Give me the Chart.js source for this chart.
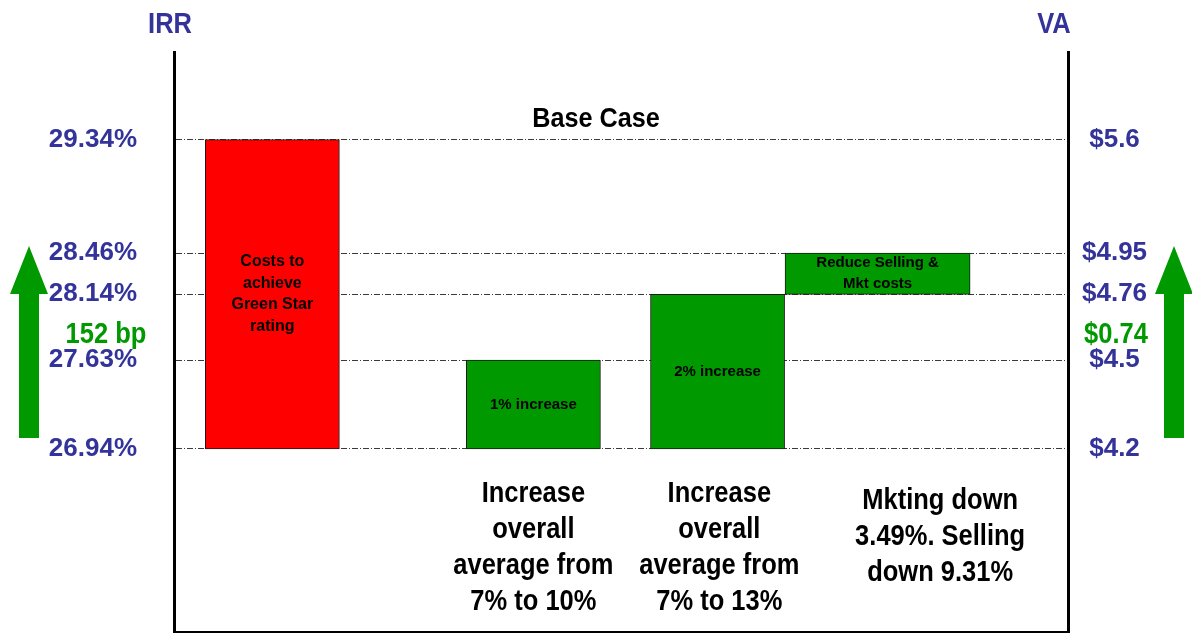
<!DOCTYPE html>
<html>
<head>
<meta charset="utf-8">
<title>IRR / VA bridge</title>
<script src="https://cdn.jsdelivr.net/npm/chart.js@4.4.0/dist/chart.umd.min.js"></script>
<style>
  html, body { margin: 0; padding: 0; background: #fff; }
  #wrap { width: 1192px; height: 633px; position: relative; }
</style>
</head>
<body>
<div id="wrap"><canvas id="bridge"></canvas></div>
<script>
// IRR bridge: green star cost takes the base case down, three changes bring it back up
const steps = ['Costs to achieve Green Star rating', '1% increase', '2% increase', 'Reduce Selling & Mkt costs'];
const barText = [['Costs to', 'achieve', 'Green Star', 'rating'], ['1% increase'], ['2% increase'], ['Reduce Selling &', 'Mkt costs']];
const irrFrom = [29.34, 26.94, 26.94, 28.14];
const irrTo = [26.94, 27.63, 28.14, 28.46];
const irrTicks = [26.94, 27.63, 28.14, 28.46, 29.34];
const vaTicks = ['$4.2', '$4.5', '$4.76', '$4.95', '$5.6'];
const stepNotes = [[], ['Increase', 'overall', 'average from', '7% to 10%'], ['Increase', 'overall', 'average from', '7% to 13%'], ['Mkting down', '3.49%. Selling', 'down 9.31%']];
const baseLabel = 'Base Case';
const vaGain = '$0.74';

const BLUE = '#333399', GREEN = '#009900';
const FILLS = ['#ff0000', GREEN, GREEN, GREEN];
const SANS = '"Liberation Sans", Arial, sans-serif';

// where each step sits along the x axis (0..10) and how wide it is
const slotX = [1.1, 4.02, 6.08, 7.87];
const slotW = [1.5, 1.5, 1.5, 2.07];
const noteX = [null, 4.02, 6.1, 8.57];
const baseX = 4.72;
const PLOT_LEFT = 174, PLOT_RIGHT = 1068;
const PX_PER_UNIT = (PLOT_RIGHT - PLOT_LEFT) / 10;

const Y_MIN = 25.52, Y_MAX = 30.02;
const tickList = s => { s.ticks = irrTicks.map(v => ({ value: v })); };
// keep the plot box fixed: no extra room for the first/last labels
const fixWidth = w => s => { s.width = w; s.paddingTop = 0; s.paddingBottom = 0; };

const datasets = steps.map((s, i) => ({
  label: s,
  data: [{ x: slotX[i], y: [irrFrom[i], irrTo[i]] }],
  backgroundColor: FILLS[i],
  borderColor: '#1a1a1a',
  borderWidth: 1,
  borderSkipped: false,
  grouped: false,
  barThickness: slotW[i] * PX_PER_UNIT,
  yAxisID: 'irr'
}));

// condensed-looking bold text: squeeze horizontally around the anchor
function narrowText(ctx, text, x, y, size, squeeze) {
  ctx.save();
  ctx.translate(x, y);
  ctx.scale(squeeze, 1);
  ctx.font = 'bold ' + size + 'px ' + SANS;
  ctx.fillText(text, 0, 0);
  ctx.restore();
}

function upArrow(ctx, cx, tip, bottom) {
  const headW = 19, shaftW = 10, headH = 48;
  ctx.beginPath();
  ctx.moveTo(cx, tip);
  ctx.lineTo(cx + headW, tip + headH);
  ctx.lineTo(cx + shaftW, tip + headH);
  ctx.lineTo(cx + shaftW, bottom);
  ctx.lineTo(cx - shaftW, bottom);
  ctx.lineTo(cx - shaftW, tip + headH);
  ctx.lineTo(cx - headW, tip + headH);
  ctx.closePath();
  ctx.fill();
}

const annotate = {
  id: 'annotate',
  afterDatasetsDraw(chart) {
    const { ctx, scales: { x, irr } } = chart;
    ctx.save();
    ctx.textAlign = 'center';
    ctx.textBaseline = 'middle';
    ctx.fillStyle = '#000';

    // text inside the bars
    chart.data.datasets.forEach((ds, i) => {
      const bar = chart.getDatasetMeta(i).data[0];
      const lines = barText[i];
      const lh = i === 0 ? 21.5 : 21;
      ctx.font = 'bold ' + (i === 0 ? 16 : 15) + 'px ' + SANS;
      const mid = (bar.y + bar.base) / 2;
      lines.forEach((t, k) => ctx.fillText(t, bar.x, mid + (k - (lines.length - 1) / 2) * lh));
    });

    // step descriptions under the bars
    const floor = irr.getPixelForValue(irrTicks[0]);
    stepNotes.forEach((lines, i) => {
      if (!lines.length) return;
      const top = floor + 45 + (4 - lines.length) * 7;
      lines.forEach((t, k) => narrowText(ctx, t, x.getPixelForValue(noteX[i]), top + k * 36, 30, 0.85));
    });

    narrowText(ctx, baseLabel, x.getPixelForValue(baseX), irr.getPixelForValue(irrTicks[4]) - 20, 28, 0.9);
    ctx.restore();
  },
  afterDraw(chart) {
    const { ctx, scales: { irr } } = chart;
    ctx.save();
    ctx.textAlign = 'center';
    ctx.textBaseline = 'middle';
    ctx.fillStyle = BLUE;
    narrowText(ctx, 'IRR', 170, 25, 30, 0.85);
    narrowText(ctx, 'VA', 1054, 25, 30, 0.85);

    // overall uplift from the post-cost low to the final IRR
    const low = irrTicks[0], high = irrTo[irrTo.length - 1];
    const tip = irr.getPixelForValue(high) - 7;
    const bottom = irr.getPixelForValue(low) - 11;
    ctx.fillStyle = GREEN;
    upArrow(ctx, 29, tip, bottom);
    upArrow(ctx, 1174, tip, bottom);
    const bp = Math.round((high - low) * 100) + ' bp';
    narrowText(ctx, bp, 106, 335, 30, 0.85);
    narrowText(ctx, vaGain, 1116, 335, 30, 0.85);
    ctx.restore();
  }
};

new Chart(document.getElementById('bridge'), {
  type: 'bar',
  data: { datasets },
  plugins: [annotate],
  options: {
    responsive: true,
    maintainAspectRatio: false,
    animation: false,
    layout: { padding: { top: 52, bottom: 1, left: 0, right: 0 } },
    plugins: { legend: { display: false }, tooltip: { enabled: false } },
    scales: {
      x: {
        type: 'linear', min: 0, max: 10,
        afterBuildTicks: s => { s.ticks = []; },
        afterFit: s => { s.height = 0; s.paddingLeft = 0; s.paddingRight = 0; },
        ticks: { display: false },
        grid: { display: false, drawTicks: false },
        border: { display: true, color: '#000', width: 2 }
      },
      irr: {
        position: 'left', min: Y_MIN, max: Y_MAX,
        afterBuildTicks: tickList,
        afterFit: fixWidth(PLOT_LEFT),
        ticks: {
          padding: 37, color: BLUE,
          font: { family: SANS, size: 26, weight: 'bold' },
          callback: v => v.toFixed(2) + '%'
        },
        grid: { color: '#3a3a3a', lineWidth: 1, drawTicks: false },
        border: { display: true, color: '#000', width: 3, dash: [6, 2, 1, 2] }
      },
      va: {
        position: 'right', min: Y_MIN, max: Y_MAX,
        afterBuildTicks: tickList,
        afterFit: fixWidth(1192 - PLOT_RIGHT),
        ticks: {
          padding: 14, color: BLUE, crossAlign: 'center',
          font: { family: SANS, size: 26, weight: 'bold' },
          callback: (v, i) => vaTicks[i]
        },
        grid: { display: false, drawTicks: false },
        border: { display: true, color: '#000', width: 3 }
      }
    }
  }
});
</script>
</body>
</html>
